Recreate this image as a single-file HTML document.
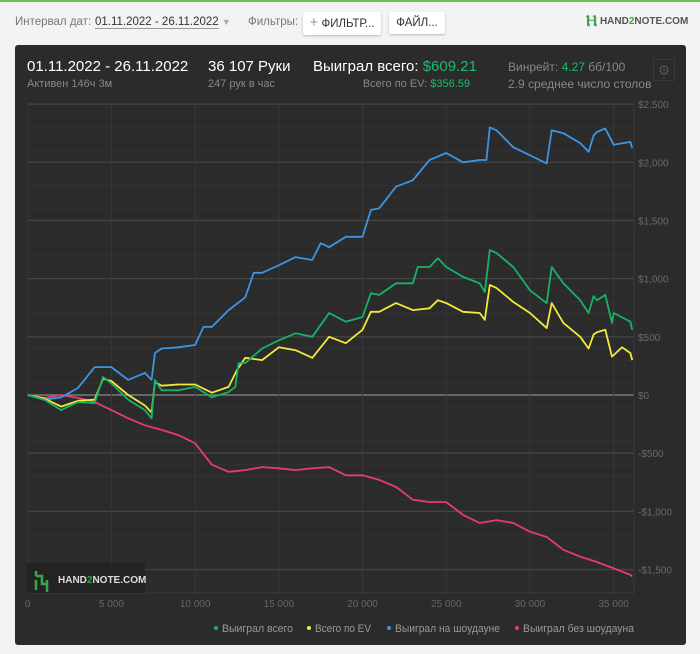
<!DOCTYPE html>
<html><head><meta charset="utf-8">
<style>
body{margin:0;width:700px;height:654px;background:#f3f3f3;font-family:"Liberation Sans",sans-serif;overflow:hidden;position:relative}
.top{position:absolute;left:0;top:0;width:700px;height:2px;background:#6cc04a}
.t{position:absolute;white-space:nowrap}
.btn{position:absolute;background:#fff;border-radius:2px;box-shadow:0 1px 2px rgba(0,0,0,.25);font-size:11.5px;color:#333;line-height:22px;text-align:center}
#panel{position:absolute;left:15px;top:45px;width:671px;height:600px;background:#2b2b2b;border-radius:3px}
</style></head><body>
<div class="top"></div>
<div class="t" style="left:15px;top:16px;font-size:11.5px;color:#777">Интервал дат:</div>
<div class="t" style="left:95px;top:16px;font-size:11.5px;color:#333"><span style="border-bottom:1px solid #999">01.11.2022 - 26.11.2022</span> <span style="color:#aaa;font-size:9px">▼</span></div>
<div class="t" style="left:248px;top:16px;font-size:11.5px;color:#777">Фильтры:</div>
<div class="btn" style="left:303px;top:12px;width:78px"><span style="color:#999;font-size:15px">+</span> ФИЛЬТР...</div>
<div class="btn" style="left:389px;top:12px;width:56px">ФАЙЛ...</div>
<div class="t" style="left:586px;top:13px;font-size:10px;font-weight:bold;color:#555"><span style="color:#3aa648;font-size:16px;vertical-align:-2px">Ⲏ</span> HAND<span style="color:#3aa648">2</span>NOTE.COM</div>
<div id="panel"></div>
<div class="t" style="left:27px;top:58px;font-size:15px;color:#fff">01.11.2022 - 26.11.2022</div>
<div class="t" style="left:27px;top:78px;font-size:11px;color:#888">Активен 146ч 3м</div>
<div class="t" style="left:208px;top:58px;font-size:15px;color:#fff">36 107 Руки</div>
<div class="t" style="left:208px;top:78px;font-size:11px;color:#888">247 рук в час</div>
<div class="t" style="left:313px;top:58px;font-size:15px;color:#fff">Выиграл всего: <span style="color:#1dbb6c">$609.21</span></div>
<div class="t" style="right:230px;top:78px;font-size:11px;color:#888">Всего по EV: <span style="color:#1dbb6c">$356.59</span></div>
<div class="t" style="left:508px;top:60px;font-size:12px;color:#888">Винрейт: <span style="color:#1dbb6c">4.27</span> бб/100</div>
<div class="t" style="left:508px;top:77px;font-size:12px;color:#888">2.9 среднее число столов</div>
<div style="position:absolute;left:653px;top:59px;width:20px;height:20px;border:1px solid #3a3a3a;border-radius:2px;color:#555;font-size:14px;line-height:20px;text-align:center">⚙</div>
<svg id="chart" width="700" height="654" style="position:absolute;left:0;top:0"></svg>
<script>
const xTicks=[0,5000,10000,15000,20000,25000,30000,35000];
const xTickLabels=["0","5 000","10 000","15 000","20 000","25 000","30 000","35 000"];
const yTicks=[2500,2000,1500,1000,500,0,-500,-1000,-1500];
const yTickLabels=["$2,500","$2,000","$1,500","$1,000","$500","$0","-$500","-$1,000","-$1,500"];
const blueHands=[0,1000,2000,3000,4000,5000,6000,7000,7400,7600,8000,9000,10000,10500,11000,12000,13000,13500,14000,15000,16000,17000,17500,18000,19000,20000,20500,21000,22000,23000,24000,25000,26000,27000,27400,27600,28000,29000,30000,31000,31300,32000,33000,33500,33800,34000,34500,35000,36000,36107];
const blueVals=[0,-40,-20,60,240,240,130,190,130,360,400,410,430,585,585,730,840,1050,1050,1115,1185,1160,1305,1270,1360,1360,1590,1605,1790,1845,2020,2080,2000,2020,2020,2300,2275,2130,2060,1990,2275,2250,2165,2090,2230,2260,2290,2150,2175,2120];
const greenHands=[0,1000,2000,3000,4000,4500,5000,6000,7000,7400,7600,8000,9000,10000,11000,12000,12400,12600,13000,14000,15000,16000,17000,18000,19000,20000,20500,21000,22000,23000,23300,24000,24500,25000,26000,27000,27300,27600,28000,29000,30000,31000,31300,32000,33000,33500,33800,34000,34500,34900,35000,36000,36107];
const greenVals=[0,-40,-130,-60,-70,155,100,-40,-130,-200,130,40,40,70,-20,25,70,275,275,400,470,530,500,705,630,670,875,860,960,960,1100,1100,1175,1100,1015,960,885,1245,1220,1100,900,790,1100,960,815,705,850,815,860,620,705,630,560];
const yellowHands=[0,1000,2000,3000,4000,4500,5000,6000,7000,7400,7600,8000,9000,10000,11000,12000,12500,13000,14000,15000,16000,17000,18000,19000,20000,20500,21000,22000,23000,24000,24500,25000,26000,27000,27300,27600,28000,29000,30000,31000,31300,32000,33000,33500,33800,34000,34500,34900,35500,36000,36107];
const yellowVals=[0,-30,-100,-50,-40,140,120,0,-90,-150,110,80,90,90,20,70,215,320,300,410,385,320,500,445,560,715,715,790,730,745,815,790,715,705,645,945,920,800,705,575,790,620,500,400,520,540,560,330,410,360,300];
const redHands=[0,1000,2000,3000,4000,5000,6000,7000,8000,9000,10000,11000,12000,13000,14000,15000,16000,17000,18000,19000,20000,21000,22000,23000,24000,25000,26000,27000,28000,29000,30000,31000,32000,33000,34000,35000,36000,36107];
const redVals=[0,-25,0,-25,-60,-130,-200,-260,-300,-345,-415,-600,-660,-645,-620,-630,-645,-630,-620,-690,-690,-730,-790,-900,-920,-920,-1030,-1100,-1075,-1100,-1175,-1220,-1330,-1390,-1435,-1490,-1545,-1560];
const legendNames=["Выиграл всего","Всего по EV","Выиграл на шоудауне","Выиграл без шоудауна"];

const NS="http://www.w3.org/2000/svg";
const svg=document.getElementById('chart');
const L=27.7,R=634,T=104.5,B=593;
const X=h=>L+h*0.016742;
const Y=v=>395-v*0.11636;
function mk(tag,attrs,parent){const e=document.createElementNS(NS,tag);for(const k in attrs)e.setAttribute(k,attrs[k]);(parent||svg).appendChild(e);return e;}
for(let v=2500;v>=-1700;v-=100){
  const ln=mk('line',{x1:L,x2:R,y1:Y(v),y2:Y(v),stroke:v%500===0?(v===0?'#8a8a8a':'#454545'):'#323232','stroke-width':v%500===0?1.3:1});
  
  
}
mk('line',{x1:L,x2:R,y1:B,y2:B,stroke:'#3a3a3a'});
mk('line',{x1:R,x2:R,y1:T,y2:B,stroke:'#3a3a3a'});
xTicks.forEach((h,i)=>{
  const ln=mk('line',{x1:X(h),x2:X(h),y1:T,y2:B,stroke:'#383838'});
  
  
  const t=mk('text',{x:X(h),y:607,'text-anchor':'middle',fill:'#666','font-size':10,'font-family':'Liberation Sans, sans-serif'});
  t.textContent=xTickLabels[i];
  
  
});
yTicks.forEach((v,i)=>{
  const t=mk('text',{x:638,y:Y(v)+4,fill:'#6a6a6a','font-size':10,'font-family':'Liberation Sans, sans-serif'});
  t.textContent=yTickLabels[i];
  
  
});
const wm=mk('rect',{x:27,y:563,width:118,height:30,fill:'#232323'});


mk('path',{d:'M36 571v5M36 576h6v8h5M47 580v12M36 580v10',stroke:'#3aa648','stroke-width':2.5,fill:'none'});
const wt=mk('text',{x:58,y:583,fill:'#ddd','font-size':10,'font-weight':'bold','font-family':'Liberation Sans, sans-serif'});
wt.innerHTML='HAND<tspan fill="#3aa648">2</tspan>NOTE.COM';


function series(hs,vs,color,name){
  const d=hs.map((h,i)=>(i?'L':'M')+X(h).toFixed(1)+' '+Y(vs[i]).toFixed(1)).join(' ');
  const p=mk('path',{d,stroke:color,'stroke-width':1.8,fill:'none','stroke-linejoin':'round'});
  
  
}
series(redHands,redVals,'#e53c6e','line-no-showdown');
series(blueHands,blueVals,'#3a95e6','line-showdown');
series(yellowHands,yellowVals,'#f3e93a','line-total-ev');
series(greenHands,greenVals,'#17b267','line-total-won');
const lc=['#17b267','#f3e93a','#3a95e6','#e53c6e'];
const lx=[216,309,389,517];
const lw=[71,56,105,111];
legendNames.forEach((n,i)=>{
  const c=mk('circle',{cx:lx[i],cy:628,r:2,fill:lc[i]});
  
  
  const t=mk('text',{x:lx[i]+6,y:632,fill:'#999','font-size':11,'font-family':'Liberation Sans, sans-serif',textLength:lw[i],lengthAdjust:'spacingAndGlyphs'});
  t.textContent=n;
  
  
});
</script>
</body></html>
